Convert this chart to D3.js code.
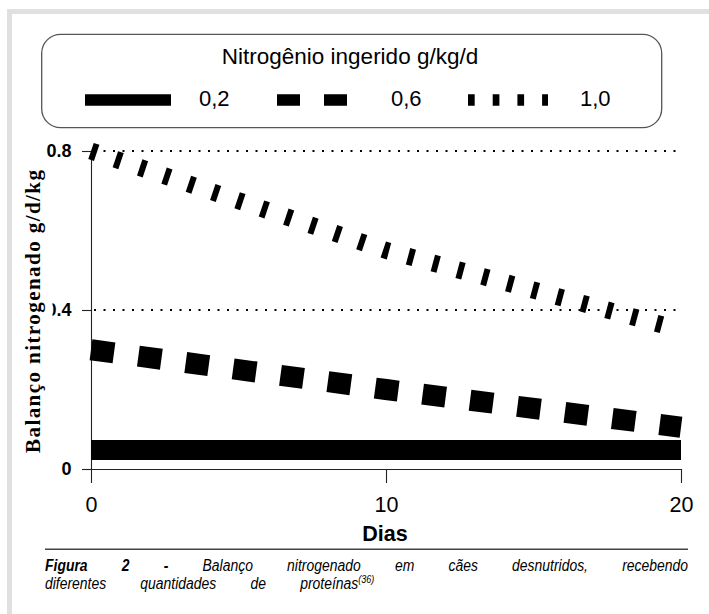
<!DOCTYPE html>
<html lang="pt">
<head>
<meta charset="UTF-8">
<title>Figura 2</title>
<script src="https://d3js.org/d3.v7.min.js"></script>
<style>
  body { margin: 0; background: #fff; }
  svg { display: block; }
  .sans { font-family: "Liberation Sans", Arial, sans-serif; }
</style>
</head>
<body>
<svg width="709" height="614"></svg>
<script>
// data
const days = [0, 10, 20];
const serie02 = [0.048, 0.048, 0.048];
const serie06 = [0.30, 0.20, 0.105];
const serie10 = [0.80, 0.55, 0.35];
const legendLabels = ["0,2", "0,6", "1,0"];
const yTicks = [0, 0.4, 0.8];
const xTicks = [0, 10, 20];
const gridValues = [0.4, 0.8];

const svg = d3.select("svg");

// grey frame
svg.append("rect").attr("x", 7).attr("y", 9).attr("width", 5).attr("height", 605).attr("fill", "#e0e0e0");
svg.append("rect").attr("x", 7).attr("y", 9).attr("width", 702).attr("height", 5).attr("fill", "#e0e0e0");

var x = d3.scaleLinear().domain([0, 20]).range([91, 681]);
var y = d3.scaleLinear().domain([0, 0.8]).range([469, 151]);

// legend box
svg.append("rect")
  .attr("x", 41.7).attr("y", 34.3).attr("width", 620).attr("height", 93.4)
  .attr("rx", 19).attr("ry", 19)
  .attr("fill", "none").attr("stroke", "#555").attr("stroke-width", 1.3);

svg.append("text").attr("class", "sans")
  .attr("x", 350).attr("y", 64)
  .attr("text-anchor", "middle")
  .style("font-size", "22.5px")
  .text("Nitrogênio ingerido g/kg/d");

const legendItems = [
  {x0: 85, x1: 171, dash: null, lx: 199},
  {x0: 277, x1: 347, dash: "23 24", lx: 391},
  {x0: 468, x1: 548, dash: "6.7 18", lx: 580}
];
legendItems.forEach(function(d, i) {
  svg.append("line")
    .attr("x1", d.x0).attr("x2", d.x1).attr("y1", 100).attr("y2", 100)
    .attr("stroke", "#000").attr("stroke-width", 11.4)
    .attr("stroke-dasharray", d.dash);
  svg.append("text").attr("class", "sans")
    .attr("x", d.lx).attr("y", 106)
    .style("font-size", "22px")
    .text(legendLabels[i]);
});

// dotted grid
svg.append("g").selectAll("line")
  .data(gridValues)
  .enter()
  .append("line")
  .attr("x1", x(0) + 3).attr("x2", x(20))
  .attr("y1", function(d) { return y(d); })
  .attr("y2", function(d) { return y(d); })
  .attr("stroke", "#000").attr("stroke-width", 2)
  .attr("stroke-dasharray", "2 7.5");

// axes
var yAxis = svg.append("g")
  .attr("transform", "translate(" + x(0) + ",0)")
  .call(d3.axisLeft(y).tickValues(yTicks).tickSize(9).tickSizeOuter(0).tickPadding(10.5)
    .tickFormat(function(d) { return d === 0 ? "0" : d3.format(".1f")(d); }));
yAxis.selectAll("text")
  .attr("class", "sans")
  .style("font-size", "18px").style("font-weight", "bold").attr("fill", "#000");

var xAxis = svg.append("g")
  .attr("transform", "translate(0," + y(0) + ")")
  .call(d3.axisBottom(x).tickValues(xTicks).tickSize(14).tickSizeOuter(0).tickFormat(d3.format("d")));
xAxis.selectAll("text")
  .attr("class", "sans")
  .attr("y", 42.7).attr("dy", 0)
  .style("font-size", "21.5px").attr("fill", "#000");

svg.selectAll(".domain, .tick line").attr("stroke", "#222").attr("stroke-width", 1.1);

// series
var line = d3.line()
  .x(function(d) { return x(d[0]); })
  .y(function(d) { return y(d[1]); });

const seriesStyle = [
  {values: serie02, width: 20, dash: null},
  {values: serie06, width: 21, dash: "23.2 24.6"},
  {values: serie10, width: 17, dash: "6 19.7"}
];
seriesStyle.forEach(function(s) {
  svg.append("path")
    .datum(days.map(function(d, i) { return [d, s.values[i]]; }))
    .attr("d", line)
    .attr("fill", "none")
    .attr("stroke", "#000")
    .attr("stroke-width", s.width)
    .attr("stroke-linecap", "butt")
    .attr("stroke-dasharray", s.dash);
});

// y title with its white box (hides the "0" of 0.4, as in the figure)
svg.append("rect").attr("x", 22).attr("y", 168).attr("width", 30.5).attr("height", 288).attr("fill", "#fff");
svg.append("text")
  .attr("transform", "translate(40,311.5) rotate(-90)")
  .attr("text-anchor", "middle")
  .attr("textLength", 283)
  .attr("lengthAdjust", "spacing")
  .style("font-family", '"Liberation Serif", "Times New Roman", serif')
  .style("font-weight", "bold")
  .style("font-size", "21px")
  .text("Balanço nitrogenado g/d/kg");

// x title
svg.append("text").attr("class", "sans")
  .attr("x", 385).attr("y", 540.7)
  .attr("text-anchor", "middle")
  .style("font-size", "21.5px").style("font-weight", "bold")
  .text("Dias");

// separator and caption (narrow face: Arial squeezed horizontally)
svg.append("line")
  .attr("x1", 45).attr("x2", 688).attr("y1", 549.3).attr("y2", 549.3)
  .attr("stroke", "#444").attr("stroke-width", 1.4);

const squeeze = 0.82;
var cap1 = svg.append("text").attr("class", "sans")
  .attr("transform", "translate(45,570.7) scale(" + squeeze + ",1)")
  .style("font-size", "17px").style("font-style", "italic");
cap1.append("tspan").style("font-weight", "bold").text("Figura 2 -");
cap1.append("tspan").text(" Balanço nitrogenado em cães desnutridos, recebendo");

var cap2 = svg.append("text").attr("class", "sans")
  .attr("transform", "translate(45,589) scale(" + squeeze + ",1)")
  .style("font-size", "17px").style("font-style", "italic");
cap2.append("tspan").text("diferentes quantidades de proteínas");
cap2.append("tspan").attr("dy", -6).style("font-size", "11px").text("(36)");

// justify first line by word spacing
var len = cap1.node().getComputedTextLength();
var ws = (643 / squeeze - len) / 8;
cap1.style("word-spacing", ws + "px");
cap2.style("word-spacing", ws + "px");
</script>
</body>
</html>
